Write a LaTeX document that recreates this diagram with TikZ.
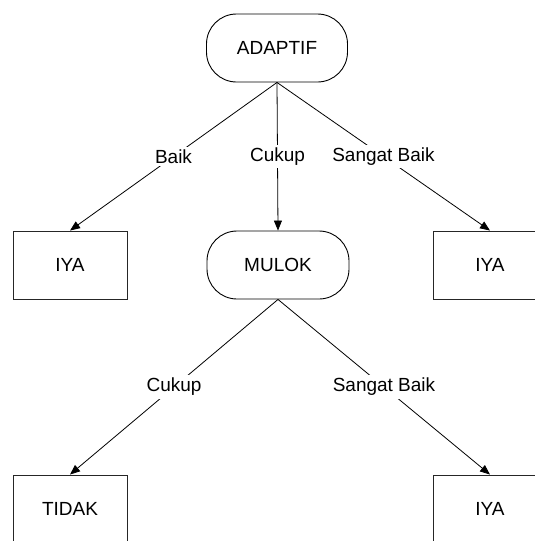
\documentclass[tikz,border=0pt]{standalone}
\usepackage{fontspec}
\setmainfont{Liberation Sans}
\usetikzlibrary{arrows.meta,positioning}
\tikzset{
  termbox/.style={draw=black,fill=white,rounded corners=30pt,align=center,
                  minimum width=141,minimum height=68,inner sep=2pt,line width=0.9pt},
  leafbox/.style={draw=black!85,fill=white,align=center,
                  minimum width=114,minimum height=68,inner sep=2pt,line width=0.9pt},
  flow/.style={-{Triangle[length=10pt,width=8pt]},line width=0.8pt,draw=black},
  lbl/.style={fill=white,inner sep=3pt},
}
\begin{document}
\begin{tikzpicture}[x=1pt,y=-1pt,font=\fontsize{19}{22}\selectfont]
  \useasboundingbox (0,0) rectangle (535,541);
  \clip (0,0) rectangle (535,541);

  % akar dan cabang tingkat pertama
  \node[termbox] (adaptif) at (277,48) {ADAPTIF};
  \node[leafbox] (iyaA)  at (70,265)  {IYA};
  \node[termbox,minimum width=142] (mulok) at (278,265) {MULOK};
  \node[leafbox] (iyaB)  at (490,265) {IYA};

  % tingkat kedua, terpotong di tepi bawah
  \node[leafbox] (tidak) at (70,509)  {TIDAK};
  \node[leafbox] (iyaC)  at (490,509) {IYA};

  \draw[flow] (adaptif.south) -- node[lbl]{Baik} (iyaA.north);
  \draw[flow] (adaptif.south) -- node[lbl]{Cukup} (mulok.north);
  \draw[flow] (adaptif.south) -- node[lbl]{Sangat Baik} (iyaB.north);

  \draw[flow] (mulok.south) -- node[lbl]{Cukup} (tidak.north);
  \draw[flow] (mulok.south) -- node[lbl]{Sangat Baik} (iyaC.north);
\end{tikzpicture}
\end{document}
